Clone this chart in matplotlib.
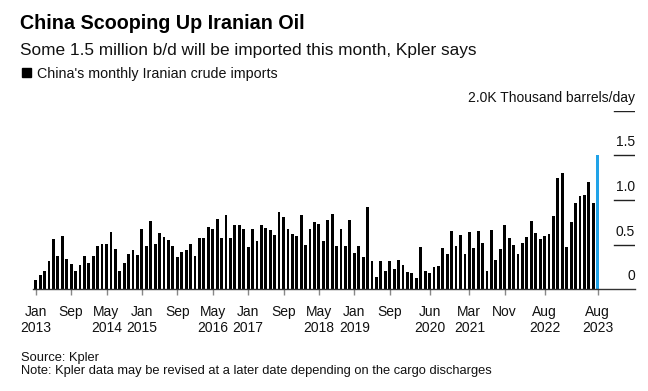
import matplotlib
matplotlib.use("Agg")
import matplotlib.pyplot as plt
import matplotlib.transforms as mtransforms
import numpy as np

plt.rcParams['font.family'] = ['Liberation Sans', 'DejaVu Sans']

# Monthly Chinese imports of Iranian crude, million b/d (Jan 2013 - Aug 2023)
values = [
    0.10, 0.16, 0.21, 0.32, 0.56, 0.37, 0.60, 0.34, 0.28, 0.20, 0.27, 0.37,   # 2013
    0.30, 0.37, 0.49, 0.51, 0.51, 0.64, 0.45, 0.21, 0.30, 0.40, 0.44, 0.38,   # 2014
    0.67, 0.48, 0.77, 0.51, 0.63, 0.59, 0.55, 0.48, 0.36, 0.42, 0.44, 0.51,   # 2015
    0.37, 0.57, 0.58, 0.70, 0.68, 0.79, 0.57, 0.83, 0.57, 0.72, 0.72, 0.67,   # 2016
    0.47, 0.67, 0.54, 0.72, 0.69, 0.66, 0.61, 0.87, 0.81, 0.68, 0.62, 0.60,   # 2017
    0.83, 0.50, 0.68, 0.75, 0.73, 0.54, 0.78, 0.84, 0.48, 0.67, 0.48, 0.78,   # 2018
    0.41, 0.48, 0.36, 0.92, 0.32, 0.14, 0.32, 0.21, 0.32, 0.23, 0.33, 0.27,   # 2019
    0.19, 0.18, 0.13, 0.47, 0.20, 0.18, 0.25, 0.26, 0.46, 0.40, 0.65, 0.49,   # 2020
    0.61, 0.39, 0.64, 0.46, 0.65, 0.52, 0.21, 0.66, 0.33, 0.45, 0.72, 0.57,   # 2021
    0.50, 0.40, 0.52, 0.59, 0.77, 0.63, 0.56, 0.60, 0.62, 0.82, 1.25, 1.30,   # 2022
    0.47, 0.75, 0.97, 1.04, 1.06, 1.20, 0.97, 1.50,                           # 2023
]
tick_months = [0, 8, 16, 24, 32, 40, 48, 56, 64, 72, 80, 89, 98, 106, 115, 127]
tick_labels = ["Jan\n2013", "Sep", "May\n2014", "Jan\n2015", "Sep", "May\n2016",
               "Jan\n2017", "Sep", "May\n2018", "Jan\n2019", "Sep", "Jun\n2020",
               "Mar\n2021", "Nov", "Aug\n2022", "Aug\n2023"]
y_levels = [0, 0.5, 1.0, 1.5, 2.0]
y_labels = ["0", "0.5", "1.0", "1.5", "2.0K Thousand barrels/day"]

W, H = 648, 391
fig = plt.figure(figsize=(W / 100, H / 100), dpi=100)

ax_left, ax_right, ax_bottom, ax_top = 33, 635, 289.3, 110.7
ax = fig.add_axes([ax_left / W, 1 - ax_bottom / H, (ax_right - ax_left) / W,
                   (ax_bottom - ax_top) / H])

x = np.arange(len(values))
colors = ['#000000'] * (len(values) - 1) + ['#21A3E8']
ax.bar(x, values, width=0.64, color=colors, linewidth=0)

px_per_month = 4.425
ax.set_xlim((ax_left - 35.7) / px_per_month, (ax_right - 35.7) / px_per_month)
ax.set_ylim(0, 2.0)

for s in ['top', 'right', 'left']:
    ax.spines[s].set_visible(False)
ax.spines['bottom'].set_color('#333333')
ax.spines['bottom'].set_linewidth(1.0)

ax.set_yticks([])
ax.set_xticks(tick_months)
ax.set_xticklabels(tick_labels, fontsize=10, color='#111111', linespacing=1.25)
ax.tick_params(axis='x', length=4, width=1, color='#888888', pad=7)

xmin_stub = (614 - ax_left) / (ax_right - ax_left)
for lev, lab in zip(y_levels, y_labels):
    if lev > 0:
        ax.axhline(lev, xmin=xmin_stub, xmax=1.0, color='#222222', linewidth=1.0)
    trans = mtransforms.offset_copy(ax.get_yaxis_transform(), fig=fig, x=0, y=6.5, units='points')
    ax.text(1.0, lev, lab, transform=trans, ha='right', va='baseline',
            fontsize=10, color='#111111')

def fy(ypx):
    return 1 - ypx / H

fig.text(20 / W, fy(29.3), "China Scooping Up Iranian Oil", fontsize=14.2,
         fontweight='bold', ha='left', va='baseline', color='#000000')
fig.text(20 / W, fy(55), "Some 1.5 million b/d will be imported this month, Kpler says",
         fontsize=12.4, ha='left', va='baseline', color='#111111')
fig.patches.append(plt.Rectangle((21.7 / W, fy(77.3)), 9 / W, 9 / H,
                                 transform=fig.transFigure, color='#000000'))
fig.text(37 / W, fy(77.7), "China's monthly Iranian crude imports", fontsize=10.3,
         ha='left', va='baseline', color='#111111')
fig.text(20.7 / W, fy(360.7), "Source: Kpler", fontsize=9.3,
         ha='left', va='baseline', color='#111111')
fig.text(20.7 / W, fy(374.3),
         "Note: Kpler data may be revised at a later date depending on the cargo discharges",
         fontsize=9.3, ha='left', va='baseline', color='#111111')

fig.savefig("out.png", dpi=100, facecolor='white')
